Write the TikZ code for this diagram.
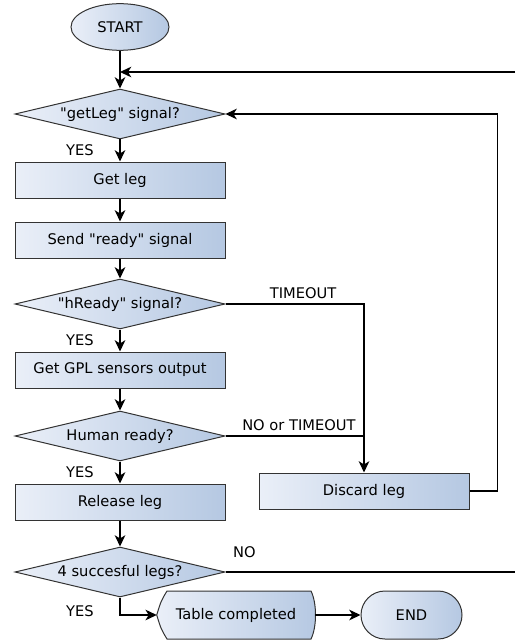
\documentclass[tikz,border=0pt]{standalone}
\usepackage{fontspec}
\setmainfont{DejaVu Sans}[Ligatures=TeXOff]
\usetikzlibrary{positioning,calc,shapes.geometric,shapes.misc,arrows.meta,backgrounds}
\definecolor{flowlight}{RGB}{234,239,248}
\definecolor{flowdark}{RGB}{181,200,226}
\definecolor{flowedge}{RGB}{51,51,51}

\begin{document}
\begin{tikzpicture}[x=0.75pt,y=-0.75pt,
					font=\fontsize{11}{13}\selectfont,
					% common look of every block
					shaded/.style={
						draw=flowedge,
						line width=0.75pt,
						left color=flowlight,
						right color=flowdark
					},
					box/.style={
						shaded,
						rectangle,
						minimum width=157.5pt,
						minimum height=27pt,
						inner sep=0pt
					},
					decision/.style={
						shaded,
						diamond,
						aspect=4.2,
						minimum width=157.5pt,
						minimum height=37.5pt,
						inner sep=0pt
					},
					terminal/.style={shaded, ellipse, minimum width=73.5pt, minimum height=35pt, inner sep=0pt},
					finish/.style={shaded, rounded rectangle, minimum width=75.75pt, minimum height=36pt, inner sep=0pt},
					flow/.style={-{Stealth[length=8.5pt,width=8pt,inset=2.5pt]}, line width=0.9pt},
					link/.style={line width=0.9pt}
					]
					\useasboundingbox (0,0) rectangle (515,642);
					
					% main column
					\node[terminal] (start)   at (120,27)  {START};
					\node[decision] (getsig)  at (120,114) {"getLeg" signal?};
					\node[box]      (getleg)  at (120,180) {Get leg};
					\node[box]      (ready)   at (120,240) {Send "ready" signal};
					\node[decision] (hsig)    at (120,304) {"hReady" signal?};
					\node[box]      (sensors) at (120,370) {Get GPL sensors output};
					\node[decision] (human)   at (120,436) {Human ready?};
					\node[box]      (release) at (120,502) {Release leg};
					\node[decision] (count)   at (120,572) {4 succesful legs?};
					
					% side and bottom blocks
					\node[box]      (discard) at (364,491) {Discard leg};
					\node[minimum width=118.5pt, minimum height=36pt, inner sep=0pt] (done) at (236,615) {Table completed};
					\node[finish]   (theend)  at (411.5,615) {END};
					
					% outline of the display block behind its text
					\begin{scope}[on background layer]
						\shadedraw[shaded] ($(done)+(-69,-24)$) .. controls ($(done)+(-75,-14)$) .. (done.west)
						.. controls ($(done)+(-75,14)$) .. ($(done)+(-69,24)$) -- ($(done)+(75,24)$)
						.. controls ($(done)+(81,12)$) and ($(done)+(81,-12)$) .. ($(done)+(75,-24)$) -- cycle;
					\end{scope}
					
					\coordinate (loopin)  at (120,72);
					\coordinate (loopout) at (515,72);
					\coordinate (noout)   at (515,572);
					
					% connectors
					\draw[flow] (start) -- (getsig);
					\draw[flow] (loopout) -- (loopin);
					\draw[flow] (getsig) -- node[left=16pt] {YES} (getleg);
					\draw[flow] (getleg) -- (ready);
					\draw[flow] (ready) -- (hsig);
					\draw[flow] (hsig) -- node[left=16pt] {YES} (sensors);
					\draw[flow] (sensors) -- (human);
					\draw[flow] (human) -- node[left=16pt] {YES} (release);
					\draw[flow] (release) -- (count);
					\draw[flow] (hsig.east) -| node[above, pos=0.28] {TIMEOUT} (discard.north);
					\draw[link] (human.east) -- node[above, pos=0.53] {NO or TIMEOUT} (human.east -| discard.north);
					\draw[flow] (discard.east) -- ++(28,0) |- (getsig.east);
					\draw[link] (count.east) -- node[above=7pt, pos=0.065] {NO} (noout);
					\draw[flow] (count.south) |- node[left=16pt, pos=0.39] {YES} (done.west);
					\draw[flow] (done.east) -- (theend.west);
				\end{tikzpicture}
\end{document}
